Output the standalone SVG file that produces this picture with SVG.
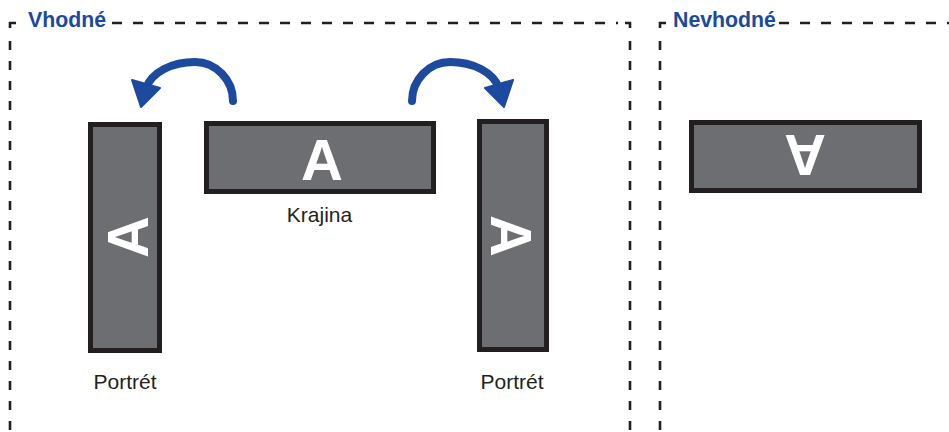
<svg xmlns="http://www.w3.org/2000/svg" width="949" height="432" viewBox="0 0 949 432">
<style>
.frame{fill:none;stroke:#231f20;stroke-width:2.6}
.dh{stroke-dasharray:10 11}
.dv{stroke-dasharray:9 11}
.title{font-family:"Liberation Sans",Arial,sans-serif;font-weight:bold;font-size:21.3px;fill:#1b4a9f}
.lbl{font-family:"Liberation Sans",Arial,sans-serif;font-size:21px;fill:#231f20;text-anchor:middle}
.scr{fill:#6d6e71;stroke:#231f20;stroke-width:5}
.glyph{font-family:"Liberation Sans",Arial,sans-serif;font-weight:bold;font-size:58px;fill:#ffffff;text-anchor:middle}
.arc{fill:none;stroke:#1b4a9f;stroke-width:8;stroke-linecap:round}
.head{fill:#1b4a9f;stroke:#1b4a9f;stroke-width:2;stroke-linejoin:round}
</style>
<rect width="949" height="432" fill="#ffffff"/>
<g id="group-vhodne">
  <path class="frame" d="M10,28 L10,23 L16,23"/>
  <line class="frame dh" x1="112" y1="23" x2="618" y2="23"/>
  <path class="frame" d="M625,23 L630,23 L630,28"/>
  <line class="frame dv" x1="10" y1="41" x2="10" y2="432"/>
  <line class="frame dv" x1="630" y1="41" x2="630" y2="432"/>
  <text class="title" x="28" y="27">Vhodné</text>
</g>
<g id="group-nevhodne">
  <path class="frame" d="M660,28 L660,23 L666,23"/>
  <line class="frame dh" x1="779" y1="23" x2="949" y2="23"/>
  <line class="frame dv" x1="660" y1="41" x2="660" y2="432"/>
  <text class="title" x="673" y="27">Nevhodné</text>
</g>
<g id="node-portrait-left">
  <rect class="scr" x="90.5" y="124.5" width="69" height="226"/>
  <g transform="translate(127,237) rotate(-90)"><text class="glyph" x="0" y="21">A</text></g>
  <text class="lbl" x="125" y="389">Portrét</text>
</g>
<g id="node-landscape">
  <rect class="scr" x="206.5" y="123.5" width="227" height="68"/>
  <text class="glyph" x="322" y="180">A</text>
  <text class="lbl" x="319.5" y="222">Krajina</text>
</g>
<g id="node-portrait-right">
  <rect class="scr" x="479.5" y="121.5" width="67" height="228"/>
  <g transform="translate(512,236) rotate(90)"><text class="glyph" x="0" y="21">A</text></g>
  <text class="lbl" x="512" y="389">Portrét</text>
</g>
<g id="node-landscape-inverted">
  <rect class="scr" x="691.5" y="122.5" width="228" height="68"/>
  <g transform="translate(805,156) rotate(180)"><text class="glyph" x="0" y="21">A</text></g>
</g>
<g id="connectors">
  <g id="arrow-left">
    <path class="arc" d="M233,101 C233,80 216,62 195,62 C172,62 152,72 146,88"/>
    <polygon class="head" points="132,80 160,88 141,107"/>
  </g>
  <g id="arrow-right" transform="translate(645,0) scale(-1,1)">
    <path class="arc" d="M233,101 C233,80 216,62 195,62 C172,62 152,72 146,88"/>
    <polygon class="head" points="132,80 160,88 141,107"/>
  </g>
</g>
</svg>
